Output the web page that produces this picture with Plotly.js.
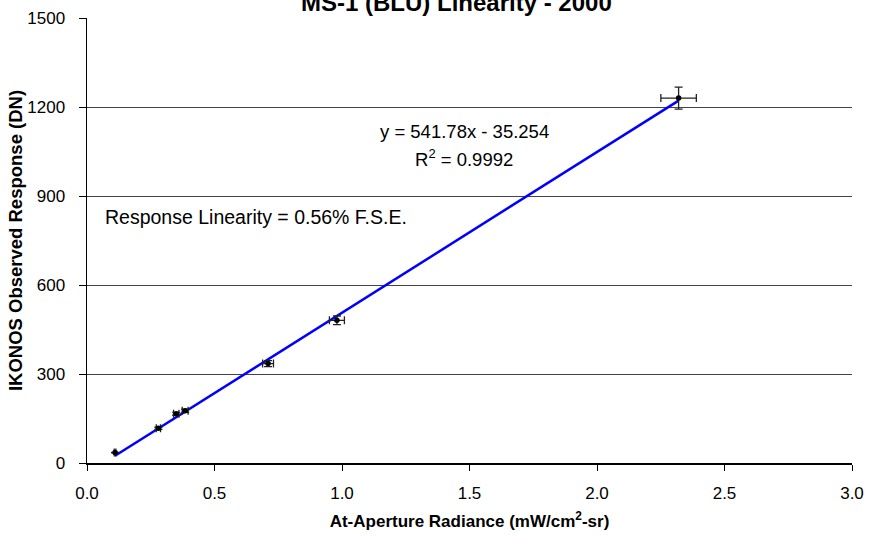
<!DOCTYPE html>
<html>
<head>
<meta charset="utf-8">
<script src="https://cdn.plot.ly/plotly-3.0.1.min.js"></script>
<style>html,body{margin:0;padding:0;background:#fff;}#chart{width:869px;height:536px;}</style>
</head>
<body>
<div id="chart"></div>
<script>
// Data
var radiance = [0.11, 0.28, 0.35, 0.385, 0.71, 0.98, 2.32];
var response = [35, 117, 166, 176, 335, 481, 1230];
var errPercent = 3;
var fitSlope = 541.78;
var fitIntercept = -35.254;
var xTickVals = [0, 0.5, 1.0, 1.5, 2.0, 2.5, 3.0];
var xTickText = ["0.0", "0.5", "1.0", "1.5", "2.0", "2.5", "3.0"];
var yTickVals = [0, 300, 600, 900, 1200, 1500];
var titleText = "MS-1 (BLU) Linearity - 2000";
var eqText = "y = 541.78x - 35.254";
var r2Text = "R<sup>2</sup> = 0.9992";
var linText = "Response Linearity = 0.56% F.S.E.";

var xMin = Math.min.apply(null, radiance), xMax = Math.max.apply(null, radiance);
var fitX = [xMin, xMax];
var fitY = fitX.map(function (x) { return fitSlope * x + fitIntercept; });

var font = "Liberation Sans, Arial, sans-serif";

var traces = [
  {
    x: fitX, y: fitY, type: "scatter", mode: "lines",
    line: {color: "#0000ff", width: 2.5}, hoverinfo: "skip", showlegend: false
  },
  {
    x: radiance, y: response, type: "scatter", mode: "markers",
    marker: {color: "#000", size: 5.5},
    error_y: {type: "percent", value: errPercent, color: "#222", thickness: 1.3, width: 4},
    error_x: {type: "percent", value: errPercent, color: "#222", thickness: 1.3, width: 4},
    showlegend: false
  }
];

var layout = {
  width: 869, height: 536,
  margin: {l: 87, r: 17, t: 18, b: 73},
  paper_bgcolor: "#fff", plot_bgcolor: "#fff",
  font: {family: font, color: "#000", size: 17},
  xaxis: {
    range: [0, 3.0], tickvals: xTickVals, ticktext: xTickText,
    showgrid: false, zeroline: false,
    showline: true, linecolor: "#000", linewidth: 1.5,
    ticks: "outside", ticklen: 6, tickcolor: "#000", tickwidth: 1,
    ticklabelstandoff: 8,
    tickfont: {family: font, size: 17, color: "#000"},
    title: {text: "<b>At-Aperture Radiance (mW/cm<sup>2</sup>-sr)</b>", font: {family: font, size: 17, color: "#000"}, standoff: 13}
  },
  yaxis: {
    range: [0, 1500], tickvals: yTickVals,
    showgrid: true, gridcolor: "#444", gridwidth: 1, zeroline: false,
    showline: true, linecolor: "#000", linewidth: 1.5,
    ticks: "outside", ticklen: 7, tickcolor: "#000", tickwidth: 1,
    ticklabelstandoff: 10,
    tickfont: {family: font, size: 17, color: "#000"},
    title: {text: "<b>IKONOS Observed Response (DN)</b>", font: {family: font, size: 18.5, color: "#000"}, standoff: 0}
  },
  annotations: [
    {x: (456 - 87) / 765, y: 1 + 15.5 / 445, xref: "paper", yref: "paper", xanchor: "center", yanchor: "middle",
     text: "<b>" + titleText + "</b>", showarrow: false,
     font: {family: font, size: 24, color: "#000"}},
    {x: (464 - 87) / 765, y: 1116, xref: "paper", yref: "y", xanchor: "center", yanchor: "middle",
     text: eqText, showarrow: false,
     font: {family: font, size: 18.5, color: "#000"}},
    {x: (464 - 87) / 765, y: 1028, xref: "paper", yref: "y", xanchor: "center", yanchor: "middle",
     text: r2Text, showarrow: false,
     font: {family: font, size: 18.5, color: "#000"}},
    {x: 0.021, y: 829, xref: "paper", yref: "y", xanchor: "left", yanchor: "middle",
     text: linText, showarrow: false,
     font: {family: font, size: 19.5, color: "#000"}}
  ]
};

Plotly.newPlot("chart", traces, layout, {displayModeBar: false, staticPlot: true});
</script>
</body>
</html>
